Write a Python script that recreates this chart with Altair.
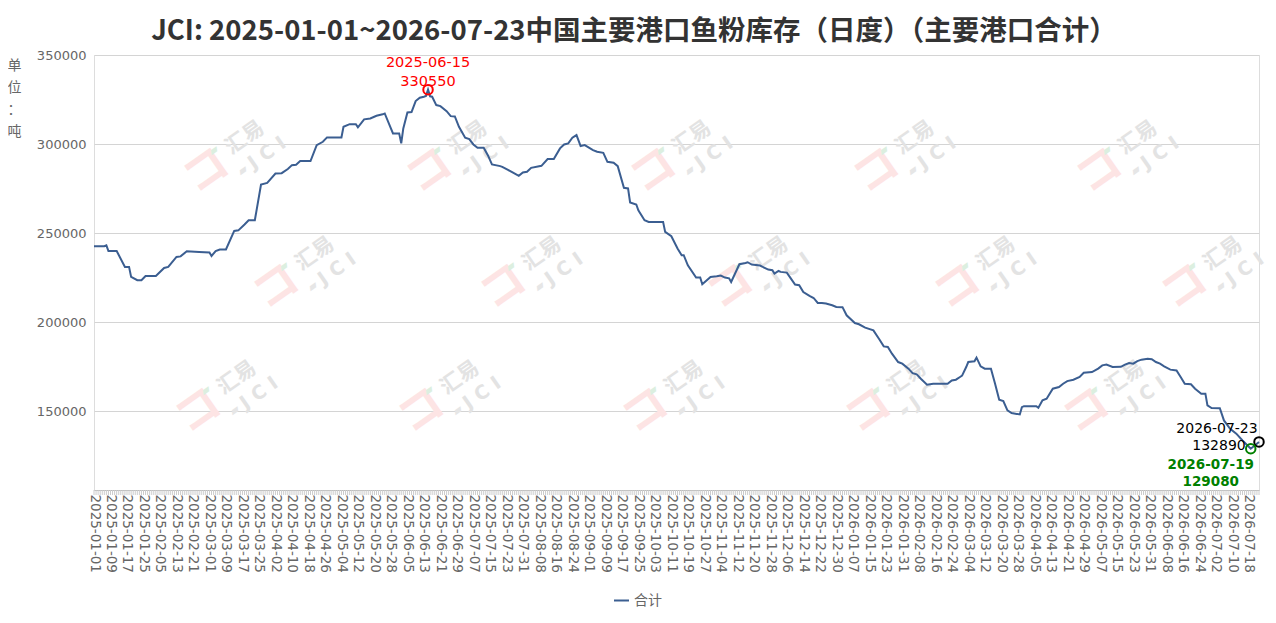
import altair as alt
import pandas as pd

# ---------------- data ----------------
start_date = "2025-01-01"
end_date = "2026-07-23"
holiday_gap = ["2025-01-29", "2025-01-30", "2025-01-31"]
all_dates = [d.strftime("%Y-%m-%d") for d in pd.date_range(start_date, end_date)
             if d.strftime("%Y-%m-%d") not in holiday_gap]
label_dates = all_dates[::8]

kp_dates = [
    "2025-01-01", "2025-01-06", "2025-01-07", "2025-01-08", "2025-01-12", "2025-01-16", "2025-01-18",
    "2025-01-19", "2025-01-22", "2025-01-24", "2025-01-26", "2025-02-03", "2025-02-07", "2025-02-09",
    "2025-02-13", "2025-02-15", "2025-02-18", "2025-02-24", "2025-03-01", "2025-03-02", "2025-03-04",
    "2025-03-06", "2025-03-09", "2025-03-13", "2025-03-15", "2025-03-18", "2025-03-20", "2025-03-23",
    "2025-03-26", "2025-03-29", "2025-04-02", "2025-04-05", "2025-04-08", "2025-04-10", "2025-04-12",
    "2025-04-14", "2025-04-19", "2025-04-22", "2025-04-25", "2025-04-27", "2025-05-04", "2025-05-05",
    "2025-05-08", "2025-05-11", "2025-05-12", "2025-05-15", "2025-05-18", "2025-05-21", "2025-05-24",
    "2025-05-25", "2025-05-29", "2025-06-01", "2025-06-02", "2025-06-03", "2025-06-05", "2025-06-07",
    "2025-06-09", "2025-06-11", "2025-06-13", "2025-06-14", "2025-06-15", "2025-06-16", "2025-06-17",
    "2025-06-19", "2025-06-21", "2025-06-24", "2025-06-26", "2025-06-28", "2025-06-30", "2025-07-03",
    "2025-07-05", "2025-07-07", "2025-07-09", "2025-07-12", "2025-07-14", "2025-07-16", "2025-07-20",
    "2025-07-21", "2025-07-24", "2025-07-26", "2025-07-29", "2025-07-31", "2025-08-02", "2025-08-04",
    "2025-08-09", "2025-08-12", "2025-08-15", "2025-08-18", "2025-08-20", "2025-08-22", "2025-08-24",
    "2025-08-26", "2025-08-28", "2025-08-30", "2025-09-03", "2025-09-05", "2025-09-08", "2025-09-10",
    "2025-09-13", "2025-09-15", "2025-09-18", "2025-09-20", "2025-09-21", "2025-09-24", "2025-09-25",
    "2025-09-28", "2025-09-30", "2025-10-07", "2025-10-08", "2025-10-11", "2025-10-14", "2025-10-16",
    "2025-10-17", "2025-10-19", "2025-10-23", "2025-10-25", "2025-10-26", "2025-10-30", "2025-11-02",
    "2025-11-04", "2025-11-06", "2025-11-08", "2025-11-09", "2025-11-13", "2025-11-16", "2025-11-17",
    "2025-11-19", "2025-11-23", "2025-11-27", "2025-11-29", "2025-11-30", "2025-12-02", "2025-12-03",
    "2025-12-06", "2025-12-08", "2025-12-10", "2025-12-12", "2025-12-14", "2025-12-17", "2025-12-19",
    "2025-12-21", "2025-12-23", "2025-12-25", "2025-12-28", "2025-12-30", "2026-01-02", "2026-01-04",
    "2026-01-08", "2026-01-10", "2026-01-13", "2026-01-17", "2026-01-20", "2026-01-22", "2026-01-24",
    "2026-01-26", "2026-01-29", "2026-01-31", "2026-02-03", "2026-02-05", "2026-02-07", "2026-02-09",
    "2026-02-12", "2026-02-15", "2026-02-22", "2026-02-24", "2026-02-26", "2026-02-28", "2026-03-01",
    "2026-03-03", "2026-03-04", "2026-03-07", "2026-03-08", "2026-03-10", "2026-03-12", "2026-03-15",
    "2026-03-17", "2026-03-19", "2026-03-21", "2026-03-23", "2026-03-25", "2026-03-29", "2026-03-30",
    "2026-03-31", "2026-04-06", "2026-04-07", "2026-04-09", "2026-04-11", "2026-04-14", "2026-04-17",
    "2026-04-19", "2026-04-21", "2026-04-24", "2026-04-27", "2026-04-29", "2026-05-03", "2026-05-06",
    "2026-05-08", "2026-05-10", "2026-05-13", "2026-05-17", "2026-05-19", "2026-05-21", "2026-05-23",
    "2026-05-25", "2026-05-27", "2026-05-30", "2026-06-01", "2026-06-03", "2026-06-05", "2026-06-07",
    "2026-06-10", "2026-06-13", "2026-06-15", "2026-06-17", "2026-06-20", "2026-06-22", "2026-06-25",
    "2026-06-27", "2026-06-28", "2026-06-30", "2026-07-04", "2026-07-06", "2026-07-09", "2026-07-12",
    "2026-07-15", "2026-07-19", "2026-07-23",
]
kp_values = [
    242700, 242700, 243200, 240000, 240000, 231100, 231100,
    225500, 223600, 223600, 226000, 226000, 230500, 231100,
    236700, 237000, 239900, 239500, 239200, 237250, 240000,
    240850, 240850, 251300, 251600, 254900, 257300, 257300,
    277350, 278250, 283500, 283700, 286000, 288200, 288400,
    290450, 290450, 299450, 301300, 303750, 303750, 309700,
    311200, 311200, 309400, 313900, 314400, 315900, 316700,
    317200, 306000, 306000, 300400, 308800, 317800, 318000,
    324150, 326000, 326600, 327000, 330550, 326800, 326600,
    321900, 321300, 318500, 315700, 315500, 309700, 303550,
    302800, 299800, 297900, 297900, 293800, 288600, 287650,
    287250, 285400, 284100, 282200, 284100, 284450, 286700,
    287800, 291600, 291600, 297600, 299800, 300400, 303550,
    305050, 298900, 299450, 296600, 295700, 295100, 290050,
    289500, 287650, 275450, 275100, 267250, 266100, 262900,
    257300, 256350, 256350, 250750, 248300, 241400, 237650,
    237650, 232000, 225100, 225100, 221350, 225450, 225850,
    226200, 225100, 224700, 222650, 232600, 233300, 233700,
    232400, 231850, 229600, 229200, 227350, 228800, 228300,
    227900, 224550, 221200, 220800, 217000, 214800, 213650,
    210850, 210850, 210500, 209550, 208600, 208500, 203950,
    199600, 198900, 197000, 195500, 190250, 186500, 186150,
    182400, 177700, 176800, 174000, 171500, 170800, 168350,
    165000, 165550, 165550, 167400, 167800, 169300, 170050,
    174900, 177700, 178100, 180150, 175300, 174000, 174000,
    165550, 156550, 155800, 150550, 149050, 148300, 152400,
    152950, 152950, 152050, 156200, 157150, 162750, 163650,
    165550, 167000, 167800, 169300, 171700, 172050, 174000,
    175850, 176250, 174900, 175000, 176250, 177150, 176800,
    178250, 179050, 179600, 179300, 177700, 176800, 175300,
    173450, 173000, 169300, 165550, 165200, 162750, 159950,
    159950, 153350, 151850, 151800, 144950, 140250, 137500,
    133700, 129080, 132890,
]

series_name = "合计"
title_text = "JCI: 2025-01-01~2026-07-23中国主要港口鱼粉库存（日度）（主要港口合计）"
y_unit = ["单", "位", "：", "吨"]
y_ticks = [150000, 200000, 250000, 300000, 350000]

max_date, max_value = "2025-06-15", 330550
min_date, min_value = "2026-07-19", 129080
last_date, last_value = "2026-07-23", 132890

# background watermark ("汇易 JCI") tile centres, in plot pixels
wm_cx = [139, 362, 586, 809, 1032, 209, 436, 663, 890, 1117, 131, 354, 578, 801, 1019]
wm_cy = [101, 101, 101, 101, 101, 217, 217, 217, 217, 217, 341, 341, 341, 341, 341]

# ---------------- chart ----------------
W, H = 1165, 435
LINE_COLOR = "#3b5e91"
LABEL_FONT = "DejaVu Sans"
CJK_FONT = "Noto Sans CJK SC"

wm_df = pd.DataFrame({"cx": wm_cx, "cy": wm_cy})


def wm_piece(text, ox, oy, size, color, weight="normal", font=CJK_FONT):
    return alt.Chart(wm_df).transform_calculate(
        px=f"datum.cx + ({ox})", py=f"datum.cy + ({oy})"
    ).mark_text(text=text, angle=325, fontSize=size, color=color, font=font,
                fontWeight=weight, align="center", baseline="middle").encode(
        x=alt.X("px:Q", scale=None), y=alt.Y("py:Q", scale=None))


watermark = [
    wm_piece("コ", -26, 16, 44, "#fde4e4", "bold", "Noto Sans CJK JP"),
    wm_piece("▰", -20, -6, 12, "#dcefe0"),
    wm_piece("▰", 9, 14, 12, "#e6e6e6"),
    wm_piece("汇易", 12, -18, 21, "#e3e3e3", "bold"),
    wm_piece("J C I", 34, -3, 19, "#e3e3e3", "bold", LABEL_FONT),
]

line_df = pd.DataFrame({"date": kp_dates, "value": kp_values, "series": series_name})
x_scale = alt.Scale(type="point", domain=all_dates, padding=0)
y_scale = alt.Scale(domain=[105900, 350000], nice=False, zero=False)

line = alt.Chart(line_df).mark_line(strokeWidth=2).encode(
    x=alt.X("date:O", scale=x_scale,
            axis=alt.Axis(values=label_dates, labelAngle=90, ticks=False, grid=False,
                          domainColor="#bbbbbb", labelFont=LABEL_FONT, labelFontSize=13.5,
                          labelColor="#666666", labelPadding=4, title=None, labelOverlap=False)),
    y=alt.Y("value:Q", scale=y_scale,
            axis=alt.Axis(values=y_ticks, format="d", title=y_unit, titleAngle=0, titleX=-80,
                          titleY=3, titleAlign="center", titleBaseline="top",
                          titleFont=CJK_FONT, titleFontSize=14, titleFontWeight="normal",
                          titleColor="#666666", titleLineHeight=22,
                          labelFont=LABEL_FONT, labelFontSize=13, labelColor="#666666",
                          labelPadding=8, domain=False, ticks=False, gridColor="#d4d4d4")),
    color=alt.Color("series:N", scale=alt.Scale(range=[LINE_COLOR]),
                    legend=alt.Legend(orient="none", legendX=519, legendY=537, title=None,
                                      symbolType="stroke", symbolStrokeWidth=2, symbolSize=225,
                                      labelFont=CJK_FONT, labelFontSize=14,
                                      labelColor="#666666")),
)

ticks = alt.Chart(pd.DataFrame({"date": all_dates})).mark_rule(color="#cccccc", strokeWidth=1).encode(
    x=alt.X("date:O", scale=x_scale),
    y=alt.value(H),
    y2=alt.value(H + 5),
)


def annotation(date, value, color, dx1, dy1, dx2, dy2, size, weight):
    df = pd.DataFrame({"date": [date], "value": [value]})
    base = alt.Chart(df).encode(x=alt.X("date:O", scale=x_scale), y=alt.Y("value:Q", scale=y_scale))
    pt = base.mark_point(shape="circle", filled=False, size=90, strokeWidth=2, color=color, opacity=1)
    t1 = base.mark_text(dx=dx1, dy=dy1, color=color, font=LABEL_FONT, fontSize=size,
                        fontWeight=weight, baseline="middle", align="center").encode(text="date:N")
    t2 = base.mark_text(dx=dx2, dy=dy2, color=color, font=LABEL_FONT, fontSize=size,
                        fontWeight=weight, baseline="middle", align="center").encode(
        text=alt.Text("value:Q", format="d"))
    return [pt, t1, t2]


annots = []
annots += annotation(max_date, max_value, "#ff0000", 0, -27, 0, -8, 14.5, "normal")
annots += annotation(last_date, last_value, "#000000", -42, -13, -40, 4, 14, "normal")
annots += annotation(min_date, min_value, "#008000", -40, 16, -40, 33, 13.5, "bold")

title = alt.Chart(pd.DataFrame({"t": [title_text]})).mark_text(
    font=CJK_FONT, fontSize=27.5, fontWeight="bold", color="#333333",
    align="center", baseline="middle").encode(text="t:N", x=alt.value(540), y=alt.value(-23))

chart = alt.layer(*watermark, line, ticks, *annots, title).properties(
    width=W, height=H, autosize="none",
    padding={"left": 86, "top": 47, "right": 8, "bottom": 118},
).configure_view(stroke=None).configure(background="white")

chart.save("out.html", embed_options={"renderer": "svg", "actions": False})
